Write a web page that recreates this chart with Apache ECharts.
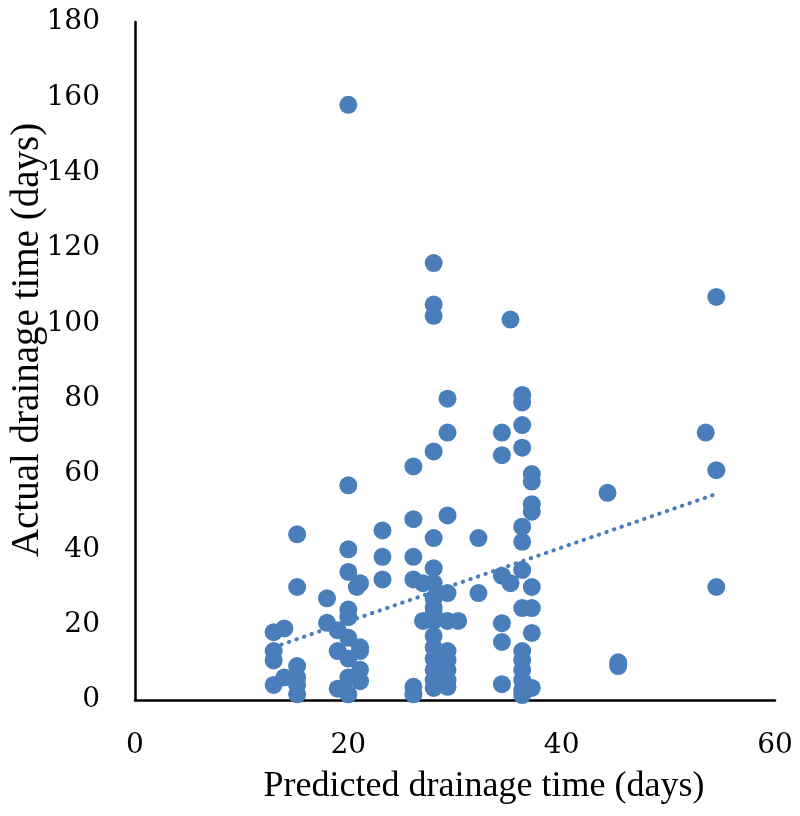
<!DOCTYPE html>
<html>
<head>
<meta charset="utf-8">
<script src="https://cdn.jsdelivr.net/npm/echarts@6/dist/echarts.min.js"></script>
<style>html,body{margin:0;padding:0;background:#fff;}#chart{width:800px;height:816px;}</style>
</head>
<body>
<div id="chart"></div>
<script>
// Predicted (x) and actual (y) drainage times
const predicted = [
  13,13,13,13,
  14,14,
  15.2,15.2,15.2,15.2,15.2,15.2,
  18,18,
  19,19,19,
  20,20,20,20,20,20,20,20,20,20,
  20.8,
  21.1,21.1,21.1,21.1,21.1,
  23.2,23.2,23.2,
  26.1,26.1,26.1,26.1,26.1,26.1,
  27,27,
  28,28,28,28,28,28,28,28,28,28,28,28,28,28,28,28,28,
  29.3,29.3,29.3,29.3,29.3,29.3,29.3,29.3,29.3,29.3,
  30.3,
  32.2,32.2,
  34.4,34.4,34.4,34.4,34.4,34.4,
  35.2,35.2,
  36.3,36.3,36.3,36.3,36.3,36.3,36.3,36.3,36.3,36.3,36.3,36.3,36.3,36.3,
  37.2,37.2,37.2,37.2,37.2,37.2,37.2,37.2,
  44.3,
  45.3,45.3,
  53.5,
  54.5,54.5,54.5
];
const actual = [
  18,13,10.5,4,
  19,6,
  44,30,9,6,4,1.5,
  27,20.5,
  18.5,13,3,
  158,57,40,34,24,22,16.5,11,6,1.5,
  30,
  31,14,13,8,5,
  45,38,32,
  62,48,38,32,3.5,1.5,
  31,21,
  116,105,102,66,43,35,31,27,24.5,23,21,17,14,11,8,5.3,3.2,
  80,71,49,28.4,21,13,10.6,8,5.3,3.5,
  21,
  43,28.4,
  71,65,33,20.4,15.4,4.2,
  101,31,
  81,79,73,67,46,42,34.5,24.4,13,10.6,8,5.3,2.7,1.3,
  60,58,52,50,30,24.4,17.8,3.2,
  55,
  10,9,
  71,
  107,61,30
];
// Linear trend line endpoints as drawn
const trendX = [13, 54.5];
const trendY = [14, 54.7];

const xTicks = [0, 20, 40, 60];
const yTicks = [0, 20, 40, 60, 80, 100, 120, 140, 160, 180];

const xTitle = 'Predicted drainage time (days)';
const yTitle = 'Actual drainage time (days)';

const points = predicted.map((x, i) => [x, actual[i]]);
const trend = trendX.map((x, i) => [x, trendY[i]]);

const chart = echarts.init(document.getElementById('chart'));
const axisFont = { fontFamily: 'DejaVu Serif', fontSize: 28, color: '#000' };
chart.setOption({
  animation: false,
  backgroundColor: '#fff',
  grid: { left: 135, right: 25, top: 22, bottom: 116, containLabel: false },
  xAxis: {
    type: 'value', min: xTicks[0], max: xTicks[xTicks.length - 1], interval: 20,
    axisLine: { show: true, onZero: false, lineStyle: { color: '#000', width: 2.5 } },
    axisTick: { show: false },
    splitLine: { show: false },
    axisLabel: Object.assign({ margin: 32 }, axisFont)
  },
  yAxis: {
    type: 'value', min: yTicks[0], max: yTicks[yTicks.length - 1], interval: 20,
    axisLine: { show: true, onZero: false, lineStyle: { color: '#000', width: 2.5 } },
    axisTick: { show: false },
    splitLine: { show: false },
    axisLabel: Object.assign({ margin: 35 }, axisFont)
  },
  graphic: [
    { type: 'text', x: 484, y: 787, style: { text: xTitle, font: '36px "Liberation Serif"', fill: '#000', align: 'center', verticalAlign: 'middle' } },
    { type: 'text', x: 28, y: 340, rotation: Math.PI / 2, style: { text: yTitle, font: '39px "Liberation Serif"', fill: '#000', align: 'center', verticalAlign: 'middle' } }
  ],
  series: [
    {
      type: 'scatter', data: points, symbol: 'circle', symbolSize: 18,
      itemStyle: { color: '#4A7EBB', opacity: 1 }, z: 2
    },
    {
      type: 'line', data: trend, symbol: 'none', z: 3,
      lineStyle: { color: '#4A7EBB', width: 4, type: [0.5, 7.5], cap: 'round' }
    }
  ]
});
</script>
</body>
</html>
